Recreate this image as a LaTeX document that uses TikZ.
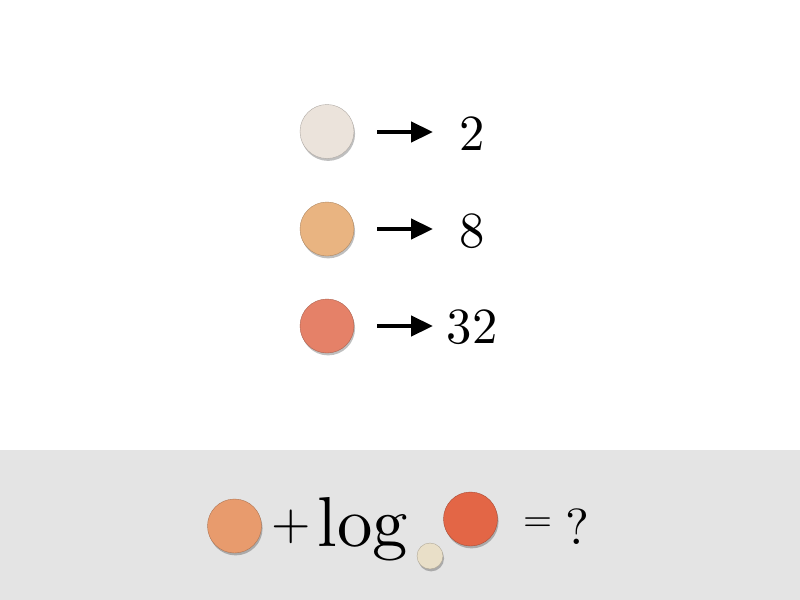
\documentclass[tikz,border=0pt]{standalone}
\usepackage{fontspec}
\setmainfont{lmroman10-regular}[Extension=.otf]
\usetikzlibrary{arrows.meta,shadows}
\definecolor{cA}{HTML}{EBE3DB}
\definecolor{cB}{HTML}{E9B481}
\definecolor{cC}{HTML}{E58168}
\definecolor{cD}{HTML}{E89B6D}
\definecolor{cE}{HTML}{E9DFC8}
\definecolor{cF}{HTML}{E36646}
\definecolor{band}{HTML}{E4E4E4}
\tikzset{
  dot/.style={circle, fill=#1, draw=#1!75!black, line width=0.3pt, minimum size=40.5pt, inner sep=0pt,
    drop shadow={shadow xshift=0.8pt, shadow yshift=-1.8pt, opacity=0.25, fill=black}},
  smalldot/.style={dot=#1, minimum size=19.5pt},
  numtxt/.style={anchor=base, inner sep=0pt, font=\fontsize{38}{40}\selectfont},
  eqtxt/.style={anchor=center, inner sep=0pt, font=\fontsize{28}{30}\selectfont},
  logtxt/.style={anchor=base, inner sep=0pt, font=\fontsize{53}{56}\selectfont},
  maparrow/.style={line width=3.4pt, -{Triangle[length=16.5pt, width=15pt]}}
}
\begin{document}
\begin{tikzpicture}[x=0.75pt,y=-0.75pt]
\useasboundingbox (0,0) rectangle (800,600);
\fill[white] (0,0) rectangle (800,450);
\fill[band] (0,450) rectangle (800,600);
% top rows
\node[dot=cA] (c1) at (327,131.5) {};
\node[dot=cB] (c2) at (327,229) {};
\node[dot=cC] (c3) at (327,326) {};
\node[numtxt] (n1) at (472,150) {2};
\node[numtxt] (n2) at (472,247) {8};
\node[numtxt] (n3) at (472,343) {32};
\coordinate (s1) at (377,132);
\coordinate (e1) at (433,132);
\coordinate (s2) at (377,229);
\coordinate (e2) at (433,229);
\coordinate (s3) at (377,326);
\coordinate (e3) at (433,326);
\draw[maparrow] (s1) -- (e1);
\draw[maparrow] (s2) -- (e2);
\draw[maparrow] (s3) -- (e3);
% bottom formula
\node[dot=cD] (b1) at (234.5,526) {};
\node[numtxt] (plus) at (291,539) {+};
\node[logtxt] (log) at (363,546) {log};
\node[smalldot=cE] (b2) at (430,556) {};
\node[dot=cF] (b3) at (470.5,519) {};
\node[eqtxt] (eq) at (538.5,525) {=};
\node[numtxt] (q) at (577,544) {?};
\end{tikzpicture}
\end{document}
